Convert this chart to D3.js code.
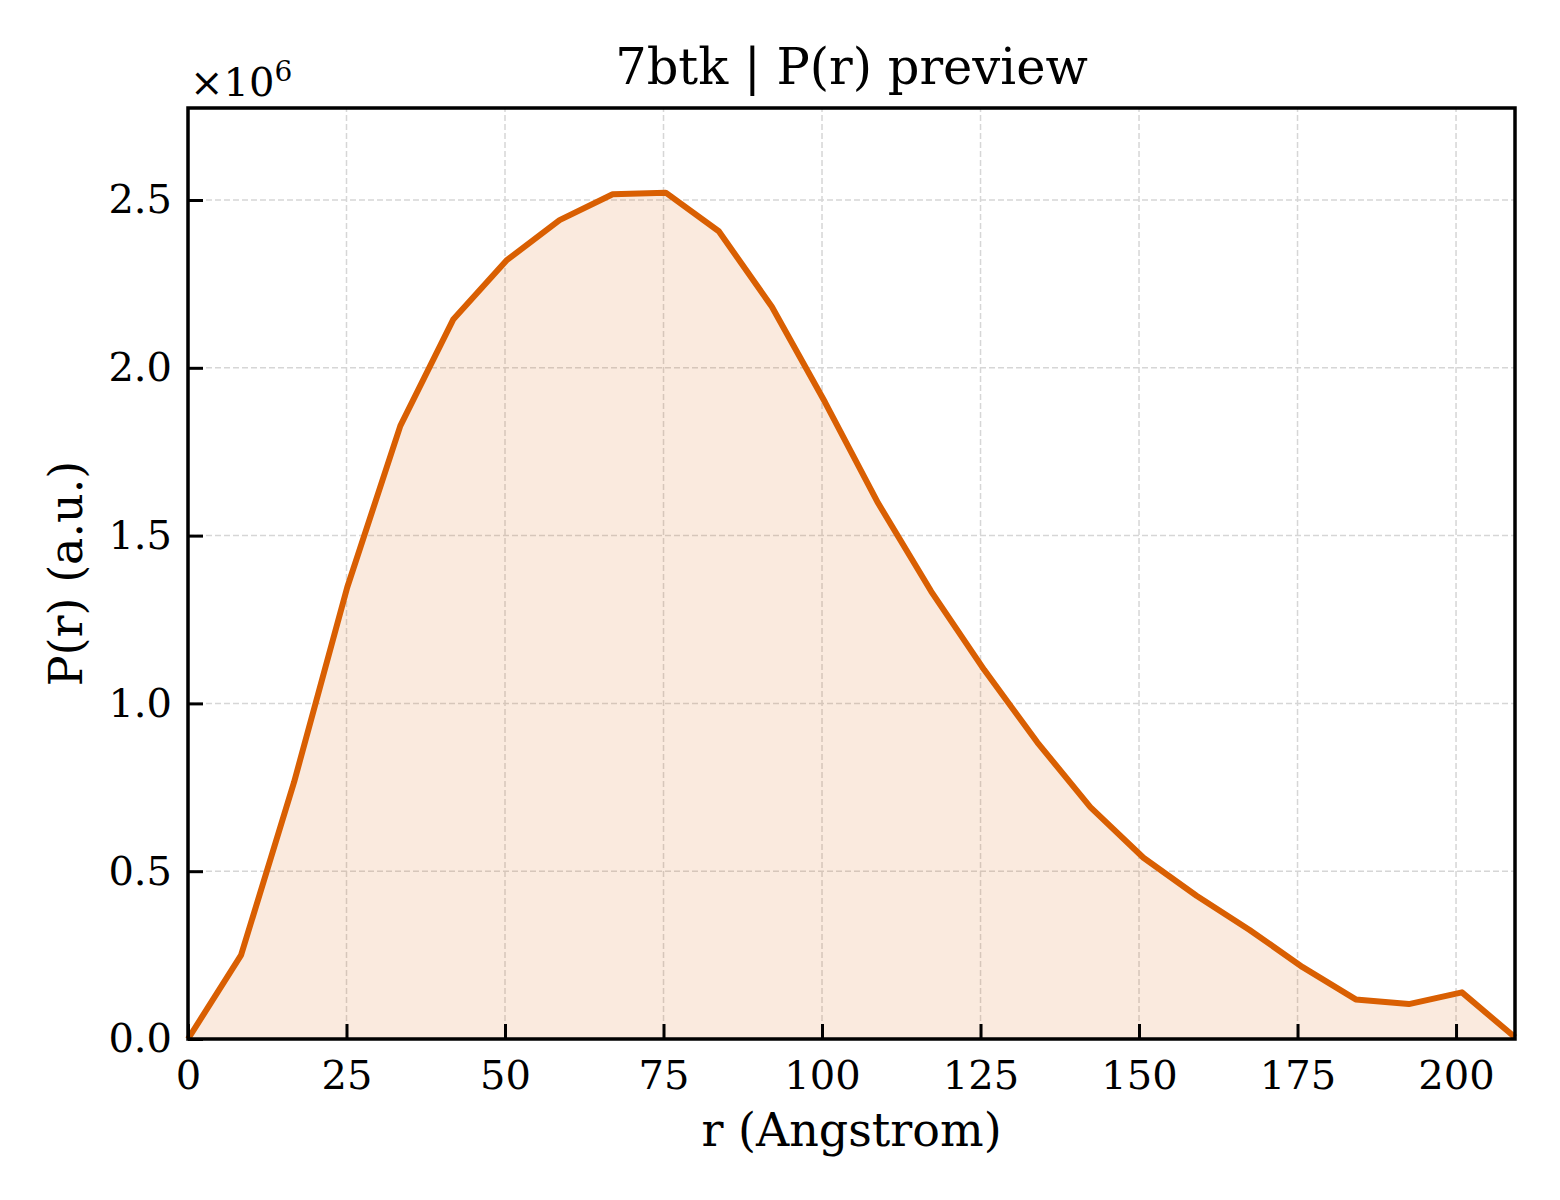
<!DOCTYPE html>
<html>
<head>
<meta charset="utf-8">
<script src="https://cdn.jsdelivr.net/npm/d3@7"></script>
<style>
  body { margin: 0; background: white; }
  text { font-family: "DejaVu Serif", serif; fill: black; }
</style>
</head>
<body>
<svg></svg>
<script>
// distance r (Angstrom) and P(r) values
const rValues = [0, 8.37, 16.74, 25.12, 33.49, 41.86, 50.23, 58.60, 66.98, 75.35,
    83.72, 92.09, 100.46, 108.84, 117.21, 125.58, 133.95, 142.32, 150.70, 159.07,
    167.44, 175.81, 184.18, 192.56, 200.93, 209.30];
const pValues = [0, 0.25e6, 0.766e6, 1.346e6, 1.827e6, 2.145e6, 2.32e6, 2.44e6, 2.517e6, 2.522e6,
    2.407e6, 2.182e6, 1.898e6, 1.597e6, 1.334e6, 1.10e6, 0.884e6, 0.691e6, 0.540e6, 0.427e6,
    0.325e6, 0.214e6, 0.118e6, 0.104e6, 0.139e6, 0.005e6];
const xTicks = [0, 25, 50, 75, 100, 125, 150, 175, 200];
const yTicks = [0, 0.5e6, 1.0e6, 1.5e6, 2.0e6, 2.5e6];

const w = 1560;
const h = 1200;
const m = {left: 188, right: 45, top: 108, bottom: 161};
const color = "#d95f02";

const svg = d3.select("svg")
    .attr("width", w)
    .attr("height", h)
    .attr("viewBox", [0, 0, w, h]);

svg.append("rect").attr("width", w).attr("height", h).attr("fill", "white");

const data = rValues.map((r, i) => ({r: r, p: pValues[i]}));

const x = d3.scaleLinear()
    .domain([0, d3.max(rValues)])
    .range([m.left, w - m.right]);

const y = d3.scaleLinear()
    .domain([0, d3.max(pValues) * 1.1])
    .range([h - m.bottom, m.top]);

// grid
const grid = svg.append("g")
    .attr("stroke", "#d6d6d6")
    .attr("stroke-width", 1.5)
    .attr("stroke-dasharray", "6,3");

grid.selectAll("line.gx")
    .data(xTicks)
    .join("line")
    .attr("class", "gx")
    .attr("x1", d => x(d))
    .attr("x2", d => x(d))
    .attr("y1", y.range()[0])
    .attr("y2", y.range()[1]);

grid.selectAll("line.gy")
    .data(yTicks)
    .join("line")
    .attr("class", "gy")
    .attr("x1", x.range()[0])
    .attr("x2", x.range()[1])
    .attr("y1", d => y(d))
    .attr("y2", d => y(d));

// area + line
svg.append("path")
    .datum(data)
    .attr("fill", color)
    .attr("fill-opacity", 0.13)
    .attr("d", d3.area().x(d => x(d.r)).y0(y(0)).y1(d => y(d.p)));

svg.append("path")
    .datum(data)
    .attr("fill", "none")
    .attr("stroke", color)
    .attr("stroke-width", 6)
    .attr("stroke-linejoin", "round")
    .attr("d", d3.line().x(d => x(d.r)).y(d => y(d.p)));

// axes, ticks pointing inward
const xAxis = svg.append("g")
    .attr("transform", `translate(0,${h - m.bottom})`)
    .call(d3.axisBottom(x).tickValues(xTicks).tickSize(-15).tickPadding(20).tickFormat(d3.format("d")));

const yAxis = svg.append("g")
    .attr("transform", `translate(${m.left},0)`)
    .call(d3.axisLeft(y).tickValues(yTicks).tickSize(-15).tickPadding(16).tickFormat(d => (d / 1e6).toFixed(1)));

[xAxis, yAxis].forEach(a => {
    a.select(".domain").remove();
    a.selectAll(".tick line").attr("stroke", "black").attr("stroke-width", 3);
    a.selectAll(".tick text").attr("font-size", 40).attr("font-family", "DejaVu Serif");
});
xAxis.selectAll(".tick text").attr("dy", "0.75em");

// frame
svg.append("rect")
    .attr("x", m.left)
    .attr("y", m.top)
    .attr("width", w - m.left - m.right)
    .attr("height", h - m.top - m.bottom)
    .attr("fill", "none")
    .attr("stroke", "black")
    .attr("stroke-width", 3.5);

// offset label
const off = svg.append("text")
    .attr("x", m.left + 2)
    .attr("y", 96)
    .attr("font-size", 40);
off.append("tspan").text("×10");
off.append("tspan").text("6").attr("font-size", 28).attr("dy", -15);

// titles
svg.append("text")
    .attr("x", (m.left + w - m.right) / 2)
    .attr("y", 84)
    .attr("text-anchor", "middle")
    .attr("font-size", 49.5)
    .text("7btk | P(r) preview");

svg.append("text")
    .attr("x", (m.left + w - m.right) / 2)
    .attr("y", 1146)
    .attr("text-anchor", "middle")
    .attr("font-size", 46)
    .text("r (Angstrom)");

svg.append("text")
    .attr("transform", `translate(82,${(m.top + h - m.bottom) / 2}) rotate(-90)`)
    .attr("text-anchor", "middle")
    .attr("font-size", 46)
    .text("P(r) (a.u.)");
</script>
</body>
</html>
